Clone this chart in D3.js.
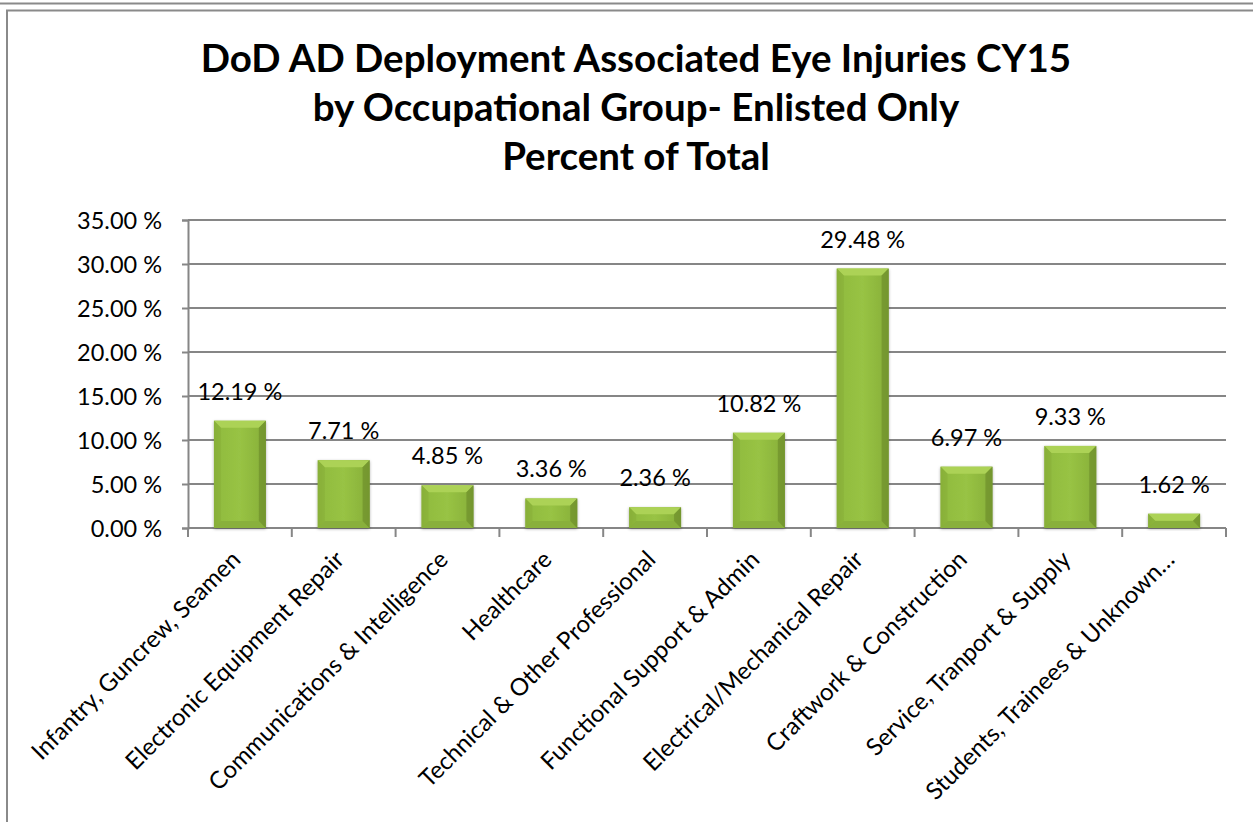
<!DOCTYPE html>
<html>
<head>
<meta charset="utf-8">
<script src="https://cdn.jsdelivr.net/npm/d3@7"></script>
<style>
  html, body { margin: 0; padding: 0; background: #fff; overflow: hidden; }
  svg { display: block; font-family: Lato, "Open Sans", sans-serif; }
</style>
</head>
<body>
<svg id="chart" width="1253" height="822"></svg>
<script>
// données
const categories = [
  'Infantry, Guncrew, Seamen',
  'Electronic Equipment Repair',
  'Communications & Intelligence',
  'Healthcare',
  'Technical & Other Professional',
  'Functional Support & Admin',
  'Electrical/Mechanical Repair',
  'Craftwork & Construction',
  'Service, Tranport & Supply',
  'Students, Trainees & Unknown\u2026'
];
const percents = [12.19, 7.71, 4.85, 3.36, 2.36, 10.82, 29.48, 6.97, 9.33, 1.62];
const yTicks = [0, 5, 10, 15, 20, 25, 30, 35];
const titleLines = [
  'DoD AD Deployment Associated Eye Injuries CY15',
  'by Occupational Group- Enlisted Only',
  'Percent of Total'
];

const W = 1253, H = 822;
const plot = { left: 188, right: 1226, top: 220, bottom: 528 };
const svg = d3.select('#chart');

// cadre extérieur
svg.append('line')
  .attr('x1', 0).attr('x2', W).attr('y1', 3.5).attr('y2', 3.5)
  .attr('stroke', '#8a8a8a').attr('stroke-width', 2);
svg.append('rect')
  .attr('x', 7).attr('y', 10.5).attr('width', W + 20).attr('height', H + 20)
  .attr('fill', 'none').attr('stroke', '#8a8a8a').attr('stroke-width', 2);

// titre
svg.append('g').selectAll('text')
  .data(titleLines)
  .enter()
  .append('text')
  .attr('x', 636)
  .attr('y', (d, i) => 72 + i * 49)
  .attr('text-anchor', 'middle')
  .style('font-size', '38.5px')
  .style('font-weight', 'bold')
  .attr('fill', '#000')
  .text(d => d);

// échelles
const x = d3.scaleBand()
  .domain(categories)
  .range([plot.left, plot.right])
  .paddingInner(0.5)
  .paddingOuter(0.25);
const y = d3.scaleLinear()
  .domain([0, 35])
  .range([plot.bottom, plot.top]);

// dégradés des barres
const defs = svg.append('defs');
const body = defs.append('linearGradient').attr('id', 'barBody')
  .attr('x1', '0%').attr('x2', '100%').attr('y1', '0%').attr('y2', '0%');
body.append('stop').attr('offset', '0%').attr('stop-color', '#85aa36');
body.append('stop').attr('offset', '15%').attr('stop-color', '#92bd40');
body.append('stop').attr('offset', '50%').attr('stop-color', '#98c344');
body.append('stop').attr('offset', '85%').attr('stop-color', '#8cb53c');
body.append('stop').attr('offset', '100%').attr('stop-color', '#739530');
const shadow = defs.append('filter').attr('id', 'shadow')
  .attr('x', '-20%').attr('y', '-20%').attr('width', '140%').attr('height', '140%');
shadow.append('feDropShadow')
  .attr('dx', 0).attr('dy', 1).attr('stdDeviation', 1.5)
  .attr('flood-color', '#000').attr('flood-opacity', 0.35);

// grille et axe Y
const yAxis = svg.append('g')
  .attr('transform', `translate(${plot.left},0)`)
  .call(d3.axisLeft(y).tickValues(yTicks).tickSize(6)
    .tickFormat(d => d3.format('.2f')(d) + ' %'));
yAxis.select('.domain').attr('stroke', '#868686').attr('stroke-width', 2);
yAxis.selectAll('.tick line').attr('stroke', '#868686').attr('stroke-width', 2);
yAxis.selectAll('.tick text')
  .attr('x', -26)
  .attr('dy', '0.35em')
  .style('font-size', '23.5px')
  .style('font-family', 'Lato, sans-serif')
  .attr('fill', '#000');

svg.append('g').selectAll('line')
  .data(yTicks.filter(d => d > 0))
  .enter()
  .append('line')
  .attr('x1', plot.left).attr('x2', plot.right)
  .attr('y1', d => y(d)).attr('y2', d => y(d))
  .attr('stroke', '#868686').attr('stroke-width', 2);

// axe X (graduations entre catégories)
const step = x.step();
const boundaries = d3.range(categories.length + 1).map(i => plot.left + i * step);
svg.append('line')
  .attr('x1', plot.left).attr('x2', plot.right)
  .attr('y1', y(0)).attr('y2', y(0))
  .attr('stroke', '#868686').attr('stroke-width', 2);
svg.append('g').selectAll('line')
  .data(boundaries)
  .enter()
  .append('line')
  .attr('x1', d => d).attr('x2', d => d)
  .attr('y1', y(0)).attr('y2', y(0) + 9)
  .attr('stroke', '#868686').attr('stroke-width', 2);

// barres
const bev = 7;
const bars = svg.append('g').selectAll('g')
  .data(categories.map((c, i) => ({ c, v: percents[i] })))
  .enter()
  .append('g');

bars.append('rect')
  .attr('x', d => x(d.c))
  .attr('y', d => y(d.v))
  .attr('width', x.bandwidth())
  .attr('height', d => y(0) - y(d.v))
  .attr('fill', 'url(#barBody)')
  .attr('filter', 'url(#shadow)');

// biseau supérieur clair
bars.append('polygon')
  .attr('points', d => {
    const x0 = x(d.c), x1 = x0 + x.bandwidth(), t = y(d.v);
    const b = Math.min(bev, (y(0) - t) / 2);
    return [[x0, t], [x1, t], [x1 - b, t + b], [x0 + b, t + b]].join(' ');
  })
  .attr('fill', '#acd256');
// biseau inférieur (léger)
bars.append('polygon')
  .attr('points', d => {
    const x0 = x(d.c), x1 = x0 + x.bandwidth(), t = y(d.v), bt = y(0);
    const b = Math.min(bev, (bt - t) / 2);
    return [[x0, bt], [x1, bt], [x1 - b, bt - b], [x0 + b, bt - b]].join(' ');
  })
  .attr('fill', '#89b03c');
// côtés
bars.append('polygon')
  .attr('points', d => {
    const x0 = x(d.c), t = y(d.v), bt = y(0);
    const b = Math.min(bev, (bt - t) / 2);
    return [[x0, t], [x0 + b, t + b], [x0 + b, bt - b], [x0, bt]].join(' ');
  })
  .attr('fill', '#8ab23b').attr('opacity', 0.7);
bars.append('polygon')
  .attr('points', d => {
    const x1 = x(d.c) + x.bandwidth(), t = y(d.v), bt = y(0);
    const b = Math.min(bev, (bt - t) / 2);
    return [[x1, t], [x1 - b, t + b], [x1 - b, bt - b], [x1, bt]].join(' ');
  })
  .attr('fill', '#74972f').attr('opacity', 0.85);

// étiquettes de valeur
bars.append('text')
  .attr('x', d => x(d.c) + x.bandwidth() / 2)
  .attr('y', d => y(d.v) - 21)
  .attr('text-anchor', 'middle')
  .style('font-size', '23.5px')
  .attr('fill', '#000')
  .text(d => d3.format('.2f')(d.v) + ' %');

// libellés des catégories
svg.append('g').selectAll('text')
  .data(categories)
  .enter()
  .append('text')
  .attr('transform', d => `translate(${x(d) + x.bandwidth() / 2 + 2},${y(0) + 33}) rotate(-45)`)
  .attr('text-anchor', 'end')
  .style('font-size', '24px')
  .attr('fill', '#000')
  .text(d => d);
</script>
</body>
</html>
